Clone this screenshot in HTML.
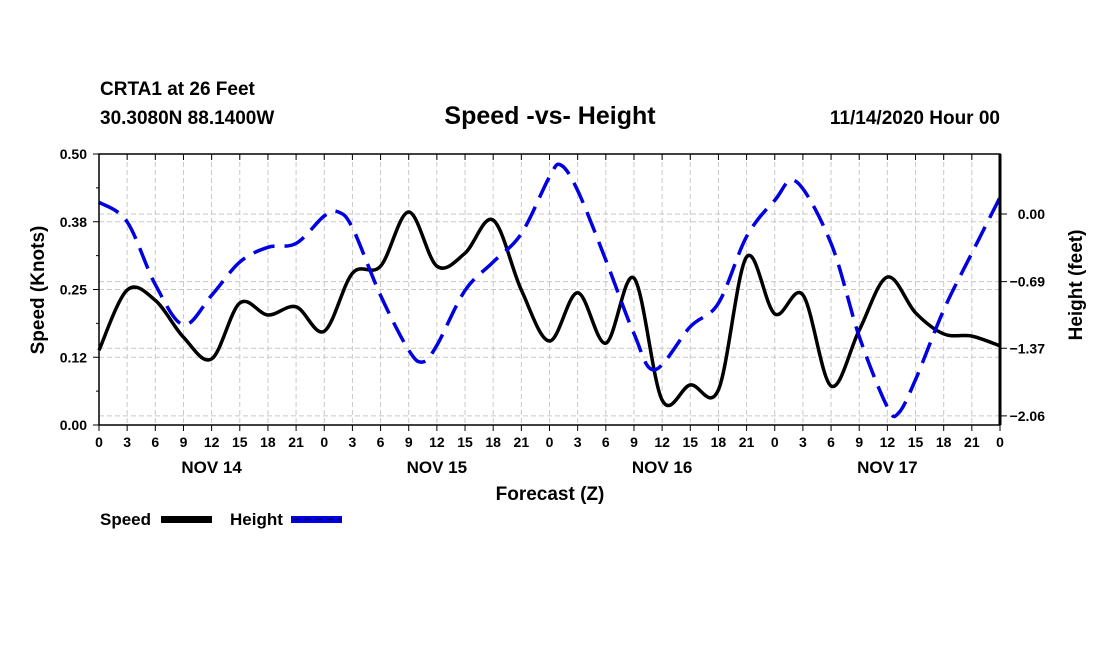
<!DOCTYPE html>
<html><head><meta charset="utf-8"><style>
body{margin:0;background:#fff;}
svg{display:block;font-family:"Liberation Sans",Arial,sans-serif;font-weight:bold;}
</style></head><body>
<svg id="chart" width="1100" height="650" viewBox="0 0 1100 650">
<text x="100" y="95" font-size="19">CRTA1 at 26 Feet</text>
<text x="100" y="124" font-size="19">30.3080N 88.1400W</text>
<text x="550" y="124" font-size="25" text-anchor="middle">Speed -vs- Height</text>
<text x="1000" y="124" font-size="19" text-anchor="end">11/14/2020 Hour 00</text>
<g id="grid"></g>
<g id="series"></g>
<g id="axes"></g>
<text transform="translate(44,290) rotate(-90)" font-size="19" text-anchor="middle">Speed (Knots)</text>
<text transform="translate(1082,285) rotate(-90)" font-size="19" text-anchor="middle">Height (feet)</text>
<text x="550" y="500" font-size="19" text-anchor="middle">Forecast (Z)</text>
<g>
<text x="100" y="525" font-size="17">Speed</text>
<rect x="161" y="516" width="51" height="7" fill="#000"/>
<text x="230" y="525" font-size="17">Height</text>
<rect x="291" y="516" width="51" height="7" fill="#0000e0"/>
<line x1="293" y1="519.5" x2="342" y2="519.5" stroke="#000060" stroke-width="1.5" stroke-dasharray="7,4"/>
</g>
</svg>
<script>
const hours=[0,3,6,9,12,15,18,21,24,27,30,33,36,39,42,45,48,51,54,57,60,63,66,69,72,75,78,81,84,87,90,93,96];
const speed=[0.138,0.249,0.23,0.162,0.122,0.225,0.203,0.218,0.173,0.28,0.293,0.393,0.293,0.317,0.378,0.249,0.155,0.244,0.151,0.271,0.046,0.074,0.065,0.31,0.205,0.24,0.072,0.175,0.273,0.207,0.168,0.164,0.146];
const heightHours=[0,3,6,9,12,15,18,21,24,25.5,27,30,33,34.5,36,39,42,45,48,49.2,51,54,57,59.2,63,66,69,72,74.3,78,81,84,85.2,87,90,93,96];
const heightFt=[0.12,-0.08,-0.72,-1.13,-0.83,-0.49,-0.34,-0.30,-0.02,0.02,-0.14,-0.83,-1.39,-1.51,-1.34,-0.78,-0.49,-0.20,0.38,0.50,0.24,-0.47,-1.22,-1.59,-1.15,-0.91,-0.23,0.14,0.33,-0.30,-1.25,-1.97,-2.03,-1.69,-0.98,-0.40,0.17];
const leftTicks=[0,0.125,0.25,0.375,0.5];
const leftTickLabels=["0.00","0.12","0.25","0.38","0.50"];
const rightTicks=[0,-0.69,-1.37,-2.06];
const rightTickLabels=["0.00","-0.69","-1.37","-2.06"];
const xTickLabels=["0","3","6","9","12","15","18","21"];
const dayLabels=["NOV 14","NOV 15","NOV 16","NOV 17"];
const X0=99,X1=1000,Y0=425,Y1=154;
const xs=h=>X0+(X1-X0)*h/96;
const yl=v=>Y0-(Y0-Y1)*v/0.5;
const yr=h=>214-98*h;
const NS="http://www.w3.org/2000/svg";
function mk(t,a,p){const e=document.createElementNS(NS,t);for(const k in a)e.setAttribute(k,a[k]);p.appendChild(e);return e;}
const grid=document.getElementById('grid'),axes=document.getElementById('axes'),series=document.getElementById('series');
for(let i=0;i<=32;i++){const x=xs(i*3);
 const g=mk('line',{x1:x,x2:x,y1:Y1,y2:Y0,stroke:'#c8c8c8','stroke-dasharray':'5,3'},grid);
 
 const t=mk('line',{x1:x,x2:x,y1:Y0,y2:Y0+6,stroke:'#000'},axes);
 
 const t2=mk('line',{x1:x,x2:x,y1:Y1,y2:Y1+6,stroke:'#000'},axes);
 
 const l=mk('text',{x:x,y:447,'font-size':14,'text-anchor':'middle'},axes);l.textContent=i==32?"0":xTickLabels[i%8];
 }
dayLabels.forEach((d,i)=>{const l=mk('text',{x:xs(i*24+12),y:473,'font-size':17,'text-anchor':'middle'},axes);l.textContent=d;
 });
leftTicks.forEach((v,i)=>{const y=yl(v);
 const g=mk('line',{x1:X0,x2:X1,y1:y,y2:y,stroke:'#c8c8c8','stroke-dasharray':'5,3'},grid);
 
 const t=mk('line',{x1:X0-6,x2:X0,y1:y,y2:y,stroke:'#000'},axes);
 
 const l=mk('text',{x:87,y:y+5,'font-size':14,'text-anchor':'end'},axes);l.textContent=leftTickLabels[i];
 });
for(let i=0;i<8;i++){const y=yl(0.0625+i*0.0625);if(i%2==1)continue;
 const t=mk('line',{x1:X0-3,x2:X0,y1:y,y2:y,stroke:'#000'},axes);
 }
rightTicks.forEach((v,i)=>{const y=yr(v);
 const g=mk('line',{x1:X0,x2:X1,y1:y,y2:y,stroke:'#c8c8c8','stroke-dasharray':'5,3'},grid);
 
 const t=mk('line',{x1:X1,x2:X1+7,y1:y,y2:y,stroke:'#000'},axes);
 
 const l=mk('text',{x:1045,y:y+5,'font-size':14,'text-anchor':'end'},axes);l.textContent=rightTickLabels[i].replace('-','\u2212');
 });
const frame=mk('rect',{x:X0,y:Y1,width:X1-X0,height:Y0-Y1,fill:'none',stroke:'#000','stroke-width':1.5},axes);

const rax=mk('line',{x1:X1,x2:X1,y1:Y1,y2:Y0,stroke:'#000','stroke-width':3},axes);

function smooth(pts){let d=`M${pts[0][0]},${pts[0][1]}`;
 for(let i=0;i<pts.length-1;i++){const p0=pts[Math.max(0,i-1)],p1=pts[i],p2=pts[i+1],p3=pts[Math.min(pts.length-1,i+2)];
  d+=`C${p1[0]+(p2[0]-p0[0])/6},${p1[1]+(p2[1]-p0[1])/6} ${p2[0]-(p3[0]-p1[0])/6},${p2[1]-(p3[1]-p1[1])/6} ${p2[0]},${p2[1]}`;}
 return d;}
const sp=mk('path',{d:smooth(hours.map((h,i)=>[xs(h),yl(speed[i])])),fill:'none',stroke:'#000','stroke-width':3.5},series);

const hp=mk('path',{d:smooth(heightHours.map((h,i)=>[xs(h),yr(heightFt[i])])),fill:'none',stroke:'#0000e0','stroke-width':3.5,'stroke-dasharray':'22,10'},series);

</script>
</body></html>
